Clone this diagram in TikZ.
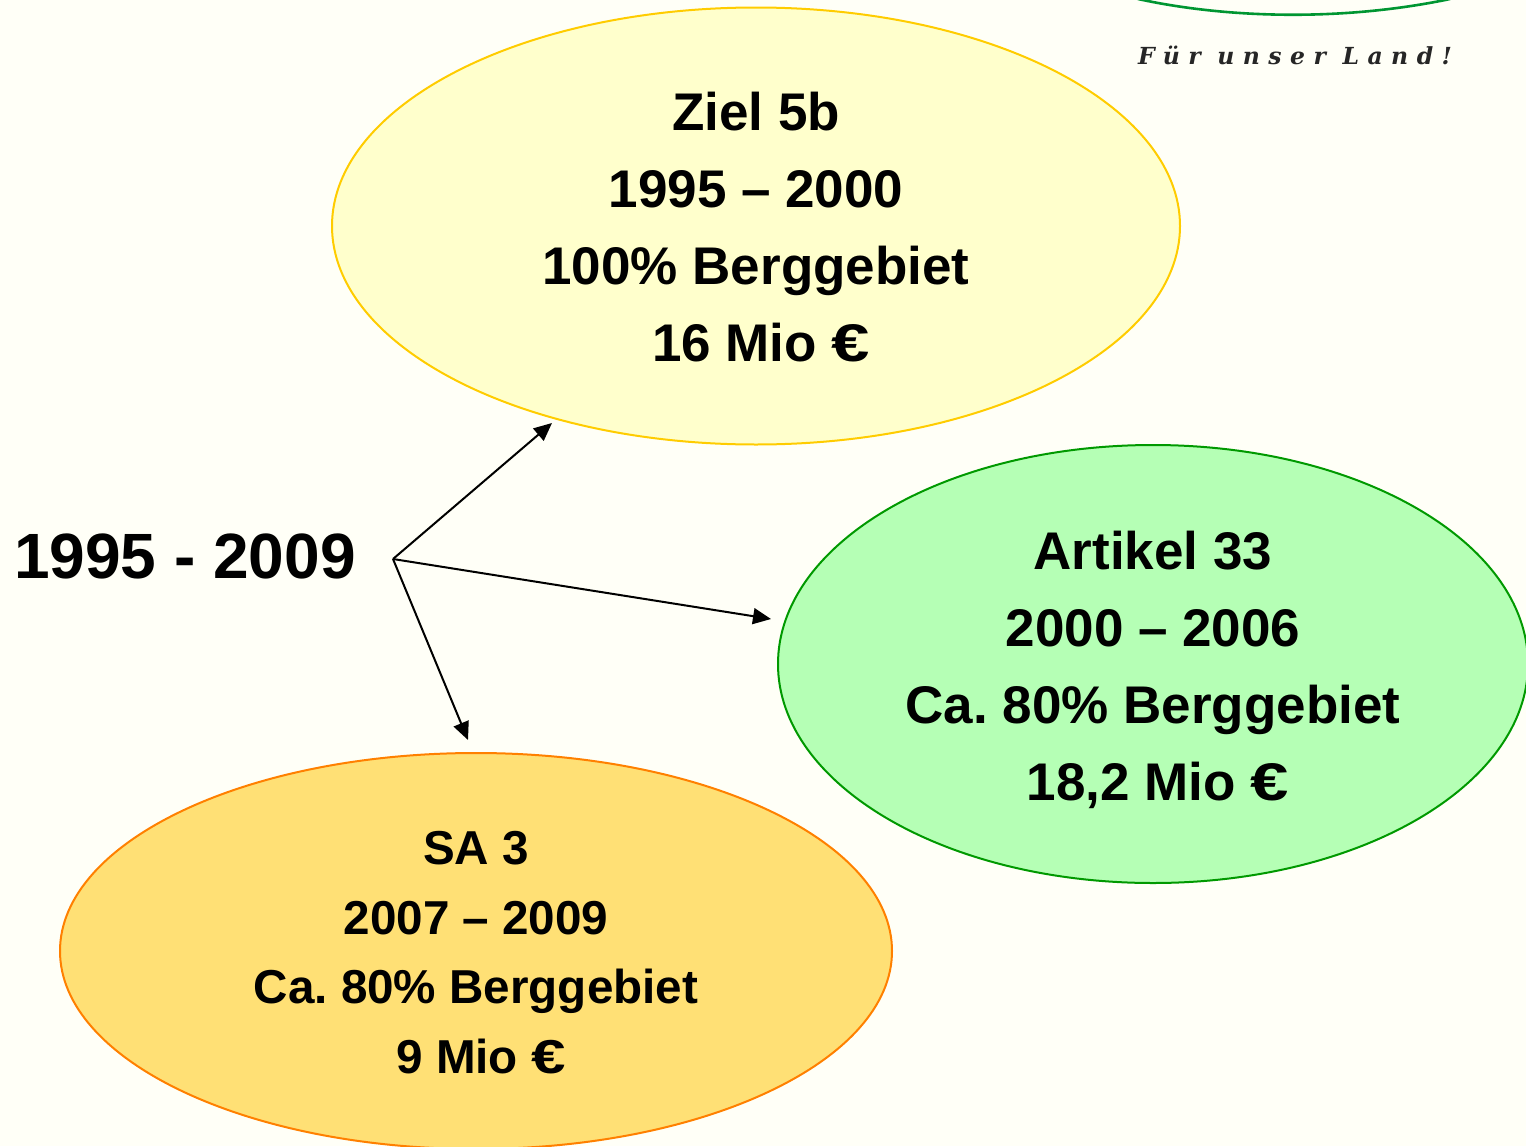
\documentclass[tikz,border=0pt]{standalone}
\usepackage{fontspec}
\usepackage{graphicx}
\setmainfont{Liberation Sans}
\newfontfamily\sloganfont[LetterSpace=36]{DejaVu Serif}
\usetikzlibrary{arrows.meta,shapes.geometric}
\newcommand{\wideeuro}{\scalebox{1.3}[1]{€}}
\newcommand{\nudge}{\hspace*{10pt}}
\definecolor{pagebg}{HTML}{FFFFF7}
\definecolor{zielfill}{RGB}{255,255,204}
\definecolor{zielline}{RGB}{255,204,0}
\definecolor{artfill}{RGB}{181,255,181}
\definecolor{artline}{RGB}{0,153,0}
\definecolor{safill}{RGB}{255,224,117}
\definecolor{saline}{RGB}{255,128,0}
\definecolor{archline}{RGB}{0,150,50}
\tikzset{
  x=1pt,y=-1pt,
  blob/.style={ellipse,line width=2pt,inner sep=0pt,outer sep=0pt},
  bubbleA/.style={font=\fontsize{53}{77}\selectfont\bfseries,text=black,align=center},
  bubbleB/.style={font=\fontsize{47.6}{69.5}\selectfont\bfseries,text=black,align=center},
  link/.style={draw=black,line width=2pt,-{Triangle[length=18pt,width=16pt]}},
}
\frenchspacing
\begin{document}
\begin{tikzpicture}
\useasboundingbox (0,0) rectangle (1526,1146);
\fill[pagebg] (0,0) rectangle (1526,1146);
\begin{scope}
\clip (0,0) rectangle (1526,1146);
\draw[draw=archline,line width=2.6pt] (1138,-1) .. controls (1235,20) and (1350,20) .. (1450,-1);
\node[blob,fill=zielfill,draw=zielline,minimum width=848pt,minimum height=437pt] (zielshape) at (756,226) {};
\node[blob,fill=artfill,draw=artline,minimum width=750pt,minimum height=438pt] (artshape) at (1153,664) {};
\node[blob,fill=safill,draw=saline,minimum width=832pt,minimum height=396pt] (sashape) at (476,951) {};
\end{scope}
\node[bubbleA] (ziel) at (756,227) {Ziel 5b\\1995 – 2000\\100\% Berggebiet\\\nudge 16 Mio \wideeuro};
\node[bubbleA] (artikel) at (1153,669.5) {Artikel 33\\2000 – 2006\\Ca. 80\% Berggebiet\\\nudge 18,2 Mio \wideeuro};
\node[bubbleB] (sa) at (476,952.5) {SA 3\\2007 – 2009\\Ca. 80\% Berggebiet\\\nudge 9 Mio \wideeuro};
\node[font=\fontsize{64}{64}\selectfont\bfseries] (span) at (185,556) {1995 - 2009};
\node[font=\sloganfont\fontsize{23.5}{23.5}\selectfont\bfseries\itshape,text=black!85] (slogan) at (1295,55) {Für unser Land!};
\coordinate (hub) at (393,559);
\coordinate (toziel) at (552,423);
\coordinate (toartikel) at (771,619);
\coordinate (tosa) at (468,740);
\draw[link] (hub) -- (toziel);
\draw[link] (hub) -- (toartikel);
\draw[link] (hub) -- (tosa);
\end{tikzpicture}
\end{document}
